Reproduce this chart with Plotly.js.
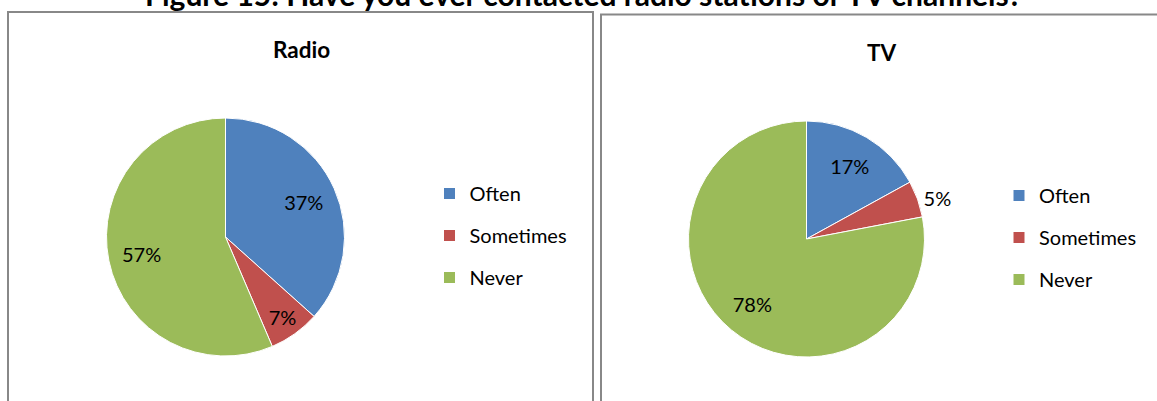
<!DOCTYPE html>
<html><head><meta charset="utf-8">
<script src="https://cdn.plot.ly/plotly-3.0.1.min.js"></script>
<style>html,body{margin:0;padding:0;background:#fff;} #chart{width:1157px;height:401px;}</style>
</head><body><div id="chart"></div>
<script>
const categories = ['Often', 'Sometimes', 'Never'];
const radioValues = [37, 7, 57];
const tvValues = [17, 5, 78];
const sliceColors = ['#4F81BD', '#C0504D', '#9BBB59'];
const chartTitle = 'Figure 15: Have you ever contacted radio stations or TV channels?';
const panelTitles = ['Radio', 'TV'];

const W = 1157, H = 401;
const FONT = 'Lato, "Open Sans", sans-serif';
const px = x => x / W;
const py = y => 1 - y / H;

function pieTraces(values, cx, cy, r, textpos) {
  const domain = {x: [px(cx - r), px(cx + r)], y: [py(cy + r), py(cy - r)]};
  const base = {
    type: 'pie', labels: categories, values: values, domain: domain,
    sort: false, direction: 'clockwise', rotation: 0,
    marker: {colors: sliceColors, line: {color: '#ffffff', width: 1}},
    textinfo: 'none', showlegend: false, hoverinfo: 'label+percent'
  };
  const lab = {
    type: 'pie', labels: categories, values: values, domain: domain,
    sort: false, direction: 'clockwise', rotation: 0, hole: 0.44,
    marker: {colors: categories.map(() => 'rgba(0,0,0,0)'), line: {width: 0}},
    text: values.map(v => v + '%'), textinfo: 'text', textposition: textpos,
    insidetextorientation: 'horizontal',
    textfont: {family: FONT, size: 20, color: '#000000'},
    showlegend: false, hoverinfo: 'skip'
  };
  return [base, lab];
}

const traces = [];
traces.push(...pieTraces(radioValues, 225.5, 237, 119, ['inside', 'inside', 'inside']));
traces.push(...pieTraces(tvValues, 806.5, 239, 118, ['inside', 'outside', 'inside']));

['legend', 'legend2'].forEach((lg, k) => {
  categories.forEach((c, i) => {
    traces.push({
      type: 'scatter', x: [null], y: [null], mode: 'markers', name: c,
      legend: lg, legendgroup: lg + i, hoverinfo: 'skip',
      marker: {symbol: 'square', size: 11, color: sliceColors[i], line: {width: 0}}
    });
  });
});

const legendBase = {
  xanchor: 'left', yanchor: 'top', bgcolor: 'rgba(0,0,0,0)', borderwidth: 0,
  font: {family: FONT, size: 20, color: '#000000'}, tracegroupgap: 13,
  itemclick: false, itemdoubleclick: false
};

const layout = {
  width: W, height: H,
  margin: {l: 0, r: 0, t: 0, b: 0},
  paper_bgcolor: '#ffffff', plot_bgcolor: 'rgba(0,0,0,0)',
  xaxis: {visible: false}, yaxis: {visible: false},
  showlegend: true,
  title: {
    text: chartTitle, xref: 'container', yref: 'container',
    x: px(583.5), xanchor: 'center', y: py(6), yanchor: 'bottom', pad: {t: 0, b: 0, l: 0, r: 0},
    font: {family: FONT, size: 30, color: '#000000', weight: 700}
  },
  legend: Object.assign({}, legendBase, {x: px(429.5), y: py(174)}),
  legend2: Object.assign({}, legendBase, {x: px(999), y: py(176)}),
  shapes: [
    {type: 'rect', xref: 'paper', yref: 'paper', x0: px(8), x1: px(593), y0: py(420), y1: py(12),
     line: {color: '#888888', width: 2}, fillcolor: 'rgba(0,0,0,0)'},
    {type: 'rect', xref: 'paper', yref: 'paper', x0: px(601), x1: px(1180), y0: py(420), y1: py(14.5),
     line: {color: '#888888', width: 2}, fillcolor: 'rgba(0,0,0,0)'}
  ],
  annotations: [
    {text: panelTitles[0], xref: 'paper', yref: 'paper', x: px(301.5), y: py(49), xanchor: 'center', yanchor: 'middle',
     showarrow: false, font: {family: FONT, size: 22.5, color: '#000000', weight: 700}},
    {text: panelTitles[1], xref: 'paper', yref: 'paper', x: px(882), y: py(53), xanchor: 'center', yanchor: 'middle',
     showarrow: false, font: {family: FONT, size: 22.5, color: '#000000', weight: 700}}
  ]
};

Plotly.newPlot('chart', traces, layout, {displayModeBar: false, staticPlot: true});
</script>
</body></html>
